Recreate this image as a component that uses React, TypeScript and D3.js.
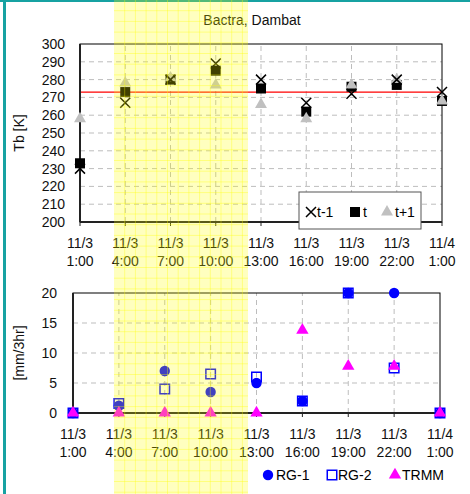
import React, { useRef, useEffect } from 'react';
import * as d3 from 'd3';

// x categories (3-hourly)
const dateLabels = ['11/3', '11/3', '11/3', '11/3', '11/3', '11/3', '11/3', '11/3', '11/4'];
const timeLabels = ['1:00', '4:00', '7:00', '10:00', '13:00', '16:00', '19:00', '22:00', '1:00'];

// brightness temperature [K]
const tbPrev = [230, 267, 280, 289, 280, 267, 272, 280, 273];
const tbNow = [233, 273, 280, 285, 275, 262, 276, 277, 268];
const tbNext = [258, 278, 281, 277, 266, 258, 277, 280, 268];
const freezeLine = 273;
const tbTicks = [200, 210, 220, 230, 240, 250, 260, 270, 280, 290, 300];

// rainfall [mm/3hr]
const rg1 = [0, 1.2, 7, 3.5, 5, 2, 20, 20, 0];
const rg2 = [0, 1.6, 4, 6.5, 6, 2, 20, 7.5, 0];
const trmm = [0, 0, 0, 0, 0, 13.8, 7.8, 7.8, 0];
const rainTicks = [0, 5, 10, 15, 20];

const FONT = '"Liberation Sans", Arial, sans-serif';

const App = () => {
  const svgRef = useRef(null);

  useEffect(() => {
    const svg = d3.select(svgRef.current);
    svg.html('');
    const W = 470, H = 494;
    const keys = d3.range(dateLabels.length).map(String);

    svg.append('rect').attr('width', W).attr('height', H).attr('fill', '#fff');

    const grid = (g, x, y, ticks, left, right) => {
      g.selectAll('.hg').data(ticks.slice(1, -1)).enter().append('line')
        .attr('x1', left).attr('x2', right)
        .attr('y1', d => y(d)).attr('y2', d => y(d))
        .attr('stroke', '#bdbdbd').attr('stroke-dasharray', '5,4');
      g.selectAll('.vg').data(keys.slice(1, -1)).enter().append('line')
        .attr('x1', d => x(d)).attr('x2', d => x(d))
        .attr('y1', y(ticks[0])).attr('y2', y(ticks[ticks.length - 1]))
        .attr('stroke', '#bdbdbd').attr('stroke-dasharray', '5,4');
    };

    const frame = (g, x, y, ticks, left, right, labelX) => {
      const top = y(ticks[ticks.length - 1]), bottom = y(ticks[0]);
      g.append('rect').attr('x', left).attr('y', top)
        .attr('width', right - left).attr('height', bottom - top)
        .attr('fill', 'none').attr('stroke', '#000').attr('stroke-width', 1);
      g.append('line').attr('x1', left).attr('x2', left).attr('y1', top).attr('y2', bottom)
        .attr('stroke', '#222').attr('stroke-width', 2);
      g.append('line').attr('x1', left).attr('x2', right).attr('y1', bottom).attr('y2', bottom)
        .attr('stroke', '#222').attr('stroke-width', 2);
      g.selectAll('.tk').data(keys).enter().append('line')
        .attr('x1', d => x(d)).attr('x2', d => x(d))
        .attr('y1', bottom).attr('y2', bottom + 4)
        .attr('stroke', '#222');
      g.selectAll('.yl').data(ticks).enter().append('text')
        .attr('x', labelX).attr('y', d => y(d)).attr('dy', '0.35em')
        .attr('text-anchor', 'end').attr('font-size', 14).attr('fill', '#111')
        .text(d => d);
      const xl = g.selectAll('.xl').data(keys).enter().append('text')
        .attr('text-anchor', 'middle').attr('font-size', 14).attr('fill', '#111');
      xl.append('tspan').attr('x', d => x(d)).attr('y', bottom + 21).attr('dy', '0.35em')
        .text((d, i) => dateLabels[i]);
      xl.append('tspan').attr('x', d => x(d)).attr('y', bottom + 39).attr('dy', '0.35em')
        .text((d, i) => timeLabels[i]);
    };

    const cross = (g, cx, cy, r, color) => {
      g.append('path')
        .attr('d', `M${cx - r},${cy - r}L${cx + r},${cy + r}M${cx - r},${cy + r}L${cx + r},${cy - r}`)
        .attr('stroke', color).attr('stroke-width', 1.5).attr('fill', 'none');
    };

    // ---------- top chart ----------
    const x1 = d3.scalePoint().domain(keys).range([80, 442]);
    const y1 = d3.scaleLinear().domain([200, 300]).range([222, 44]);
    const top = svg.append('g').attr('font-family', FONT);

    top.append('text').attr('x', 252).attr('y', 25).attr('text-anchor', 'middle')
      .attr('font-size', 14).attr('fill', '#111').text('Bactra, Dambat');

    grid(top, x1, y1, tbTicks, 80, 442);
    top.append('line').attr('x1', 80).attr('x2', 442)
      .attr('y1', y1(freezeLine)).attr('y2', y1(freezeLine))
      .attr('stroke', '#ff0000').attr('stroke-width', 1.2);
    frame(top, x1, y1, tbTicks, 80, 442, 65);

    top.append('text').attr('transform', `translate(24,${(y1(200) + y1(300)) / 2}) rotate(-90)`)
      .attr('text-anchor', 'middle').attr('font-size', 14).attr('fill', '#111').text('Tb [K]');

    const sq = d3.symbol().type(d3.symbolSquare).size(100);
    const tri = d3.symbol().type(d3.symbolTriangle).size(62);
    top.selectAll('.now').data(tbNow).enter().append('path')
      .attr('d', sq).attr('fill', '#000')
      .attr('transform', (d, i) => `translate(${x1(keys[i])},${y1(d)})`);
    top.selectAll('.next').data(tbNext).enter().append('path')
      .attr('d', tri).attr('fill', '#c0c0c0')
      .attr('transform', (d, i) => `translate(${x1(keys[i])},${y1(d)})`);
    tbPrev.forEach((d, i) => cross(top, x1(keys[i]), y1(d), 5, '#000'));

    // legend
    const lg = top.append('g');
    lg.append('rect').attr('x', 299).attr('y', 192).attr('width', 122).attr('height', 37)
      .attr('fill', '#fff').attr('stroke', '#555');
    cross(lg, 311, 212, 5, '#000');
    lg.append('text').attr('x', 317).attr('y', 212).attr('dy', '0.35em').attr('font-size', 14).text('t-1');
    lg.append('path').attr('d', sq).attr('fill', '#000').attr('transform', 'translate(355,212)');
    lg.append('text').attr('x', 363).attr('y', 212).attr('dy', '0.35em').attr('font-size', 14).text('t');
    lg.append('path').attr('d', tri).attr('fill', '#c0c0c0').attr('transform', 'translate(387,212)');
    lg.append('text').attr('x', 395).attr('y', 212).attr('dy', '0.35em').attr('font-size', 14).text('t+1');

    // ---------- bottom chart ----------
    const x2 = d3.scalePoint().domain(keys).range([73, 440]);
    const y2 = d3.scaleLinear().domain([0, 20]).range([413, 293]);
    const bot = svg.append('g').attr('font-family', FONT);

    grid(bot, x2, y2, rainTicks, 73, 440);
    frame(bot, x2, y2, rainTicks, 73, 440, 57);

    bot.append('text').attr('transform', `translate(24,${(y2(0) + y2(20)) / 2}) rotate(-90)`)
      .attr('text-anchor', 'middle').attr('font-size', 14).attr('fill', '#111').text('[mm/3hr]');

    const circ = d3.symbol().type(d3.symbolCircle).size(85);
    const osq = d3.symbol().type(d3.symbolSquare).size(90);
    const tri2 = d3.symbol().type(d3.symbolTriangle).size(66);
    bot.selectAll('.rg1').data(rg1).enter().append('path')
      .attr('d', circ).attr('fill', '#0000ff')
      .attr('transform', (d, i) => `translate(${x2(keys[i])},${y2(d)})`);
    bot.selectAll('.rg2').data(rg2).enter().append('path')
      .attr('d', osq).attr('fill', 'none').attr('stroke', '#0000ff').attr('stroke-width', 1.5)
      .attr('transform', (d, i) => `translate(${x2(keys[i])},${y2(d)})`);
    bot.selectAll('.trmm').data(trmm).enter().append('path')
      .attr('d', tri2).attr('fill', '#ff00ff')
      .attr('transform', (d, i) => `translate(${x2(keys[i])},${y2(d)})`);

    const lg2 = bot.append('g');
    lg2.append('path').attr('d', circ).attr('fill', '#0000ff').attr('transform', 'translate(268,475)');
    lg2.append('text').attr('x', 276).attr('y', 475).attr('dy', '0.35em').attr('font-size', 14).text('RG-1');
    lg2.append('path').attr('d', osq).attr('fill', 'none').attr('stroke', '#0000ff').attr('stroke-width', 1.5)
      .attr('transform', 'translate(332,475)');
    lg2.append('text').attr('x', 338).attr('y', 475).attr('dy', '0.35em').attr('font-size', 14).text('RG-2');
    lg2.append('path').attr('d', tri2).attr('fill', '#ff00ff').attr('transform', 'translate(395,475)');
    lg2.append('text').attr('x', 402).attr('y', 475).attr('dy', '0.35em').attr('font-size', 14).text('TRMM');

    // teal frame edges
    svg.append('rect').attr('x', 3).attr('y', 0).attr('width', 3).attr('height', H).attr('fill', '#17a2a2');
    svg.append('rect').attr('x', 0).attr('y', 0).attr('width', W).attr('height', 2).attr('fill', '#17a2a2');

    // yellow highlighted window with grid
    const hx0 = 114, hx1 = 248;
    const hl = svg.append('g');
    hl.append('rect').attr('x', hx0).attr('y', 0).attr('width', hx1 - hx0).attr('height', H)
      .attr('fill', '#ffff00').attr('opacity', 0.25);
    const step = 10.7;
    hl.selectAll('.hv').data(d3.range(hx0 + step, hx1, step)).enter().append('line')
      .attr('x1', d => d).attr('x2', d => d).attr('y1', 0).attr('y2', H)
      .attr('stroke', '#ffff00').attr('stroke-opacity', 0.35);
    hl.selectAll('.hh').data(d3.range(step, H, step)).enter().append('line')
      .attr('x1', hx0).attr('x2', hx1).attr('y1', d => d).attr('y2', d => d)
      .attr('stroke', '#ffff00').attr('stroke-opacity', 0.35);
  }, []);

  return (
    <div style={{ position: 'fixed', left: 0, top: 0 }}>
      <svg ref={svgRef} width={470} height={494} style={{ display: 'block' }}></svg>
    </div>
  );
};

export default App;
